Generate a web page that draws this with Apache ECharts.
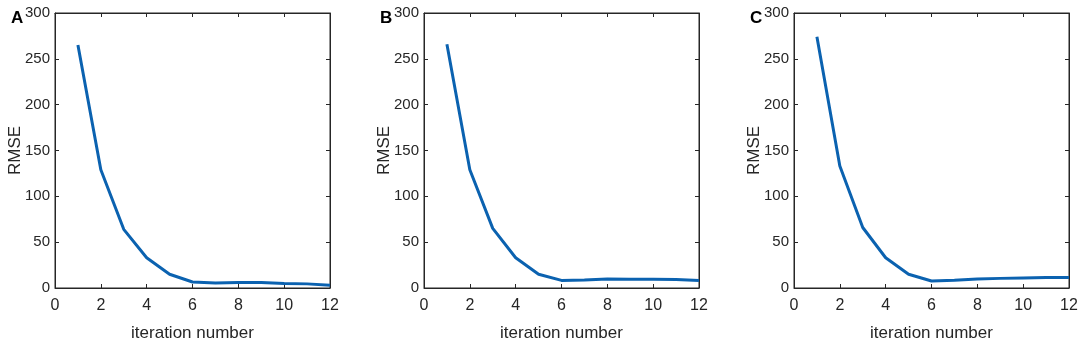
<!DOCTYPE html>
<html>
<head>
<meta charset="utf-8">
<script src="https://cdn.jsdelivr.net/npm/echarts@6/dist/echarts.min.js"></script>
<style>
  html, body { margin: 0; padding: 0; background: #fff; }
  #chart { width: 1084px; height: 348px; }
</style>
</head>
<body>
<div id="chart"></div>
<script>
var iterations = [1, 2, 3, 4, 5, 6, 7, 8, 9, 10, 11, 12];
var rmseA = [265, 129, 64, 33, 15, 6.5, 5.5, 6, 6, 5, 4.5, 3];
var rmseB = [266, 129, 65, 33, 15, 8.3, 8.7, 9.8, 9.5, 9.5, 9.3, 8.3];
var rmseC = [274, 133, 66, 33, 15, 7.6, 8.5, 9.8, 10.5, 11, 11.5, 11.5];
var panelLetters = ['A', 'B', 'C'];
var panelData = [rmseA, rmseB, rmseC];
var gridLefts = [55, 424, 794];

var fontName = '"Liberation Sans Narrow", "Liberation Sans", Arial, sans-serif';
var chart = echarts.init(document.getElementById('chart'));

var grids = [], xAxes = [], yAxes = [], series = [], titles = [];

function ticks() {
  return { show: true, inside: true, length: 4, lineStyle: { color: '#262626' } };
}
var boxLine = { show: true, onZero: false, lineStyle: { color: '#262626' } };

panelData.forEach(function (vals, i) {
  grids.push({
    left: gridLefts[i], top: 13, width: 275, height: 275,
    show: true, borderColor: '#262626', borderWidth: 1
  });
  // bottom x axis
  xAxes.push({
    type: 'value', gridIndex: i, min: 0, max: 12, interval: 2,
    position: 'bottom',
    name: 'iteration number', nameLocation: 'middle', nameGap: 37,
    nameMoveOverlap: false,
    nameTextStyle: { fontFamily: fontName, fontSize: 17, color: '#262626' },
    axisLine: boxLine,
    axisTick: ticks(),
    axisLabel: { fontFamily: fontName, fontSize: 16, color: '#262626', margin: 10 },
    splitLine: { show: false }
  });
  // top x axis (ticks only)
  xAxes.push({
    type: 'value', gridIndex: i, min: 0, max: 12, interval: 2,
    position: 'top',
    axisLine: boxLine,
    axisTick: ticks(),
    axisLabel: { show: false },
    splitLine: { show: false }
  });
  yAxes.push({
    type: 'value', gridIndex: i, min: 0, max: 300, interval: 50,
    position: 'left',
    name: 'RMSE', nameLocation: 'middle', nameGap: 31, nameRotate: 90,
    nameMoveOverlap: false,
    nameTextStyle: { fontFamily: fontName, fontSize: 17, color: '#262626' },
    axisLine: boxLine,
    axisTick: ticks(),
    axisLabel: { fontFamily: fontName, fontSize: 15, color: '#262626', margin: 5 },
    splitLine: { show: false }
  });
  yAxes.push({
    type: 'value', gridIndex: i, min: 0, max: 300, interval: 50,
    position: 'right',
    axisLine: boxLine,
    axisTick: ticks(),
    axisLabel: { show: false },
    splitLine: { show: false }
  });
  series.push({
    type: 'line',
    xAxisIndex: i * 2, yAxisIndex: i * 2,
    data: iterations.map(function (x, k) { return [x, vals[k]]; }),
    showSymbol: false,
    lineStyle: { color: '#0b62b0', width: 3 },
    itemStyle: { color: '#0b62b0' }
  });
  titles.push({
    text: panelLetters[i],
    left: gridLefts[i] - 49, top: 5,
    textStyle: { fontFamily: 'Liberation Sans, Arial, sans-serif', fontWeight: 'bold', fontSize: 17, color: '#000' }
  });
});

chart.setOption({
  animation: false,
  title: titles,
  grid: grids,
  xAxis: xAxes,
  yAxis: yAxes,
  series: series
});
</script>
</body>
</html>
